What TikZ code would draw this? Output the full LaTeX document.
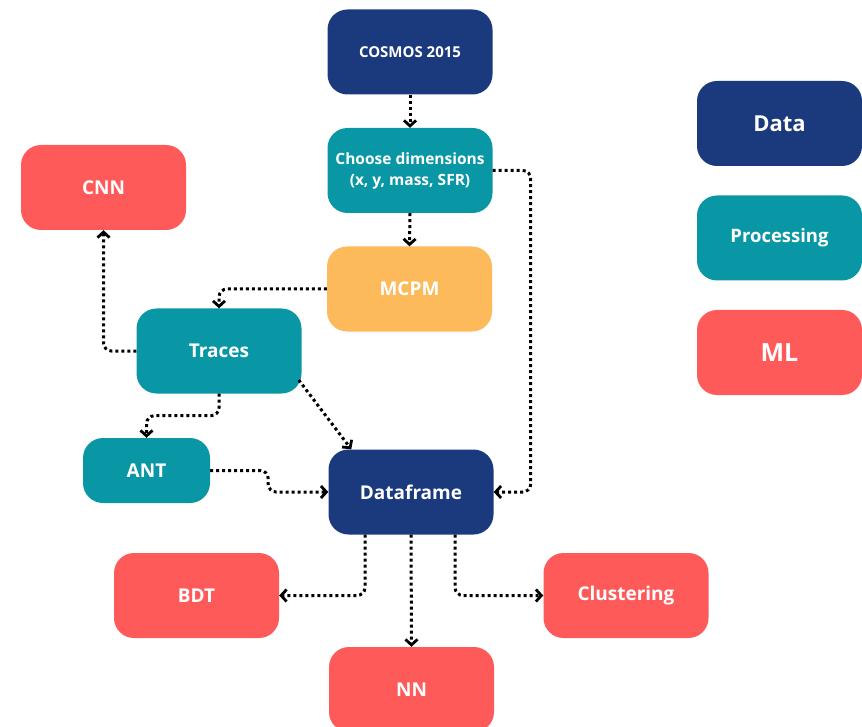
\documentclass[tikz,border=0pt]{standalone}
\usepackage{fontspec}
\setmainfont{Open Sans}
\usetikzlibrary{arrows.meta,calc}
\definecolor{navy}{HTML}{1B3A7E}
\definecolor{teal}{HTML}{0A97A5}
\definecolor{coral}{HTML}{FF5A5A}
\definecolor{amber}{HTML}{FDBA5A}
\begin{document}
\begin{tikzpicture}[x=1pt,y=-1pt,
  box/.style={rounded corners=20pt, minimum width=165pt, minimum height=85pt, text=white,
    font=\bfseries\fontsize{19}{23}\selectfont, align=center, inner sep=0pt, draw=none},
  conn/.style={line width=3pt, dash pattern=on 3pt off 3pt, rounded corners=8pt,
    -{Straight Barb[length=5.5pt,width=12pt,line width=2.8pt]}}]
\useasboundingbox (0,0) rectangle (862,727);
% data nodes
\node[box, fill=navy, font=\bfseries\fontsize{15}{18}\selectfont] (cosmos) at (410,52) {COSMOS 2015};
\node[box, fill=teal, font=\bfseries\fontsize{15.5}{21}\selectfont] (choose) at (410,170.5) {Choose dimensions\\(x, y, mass, SFR)};
\node[box, fill=amber] (mcpm) at (409.5,289) {MCPM};
\node[box, fill=coral] (cnn) at (103.5,187.5) {CNN};
\node[box, fill=teal] (traces) at (219,351) {Traces};
\node[box, fill=teal, minimum width=127pt, minimum height=65pt] (ant) at (146.5,470.5) {ANT};
\node[box, fill=navy] (df) at (411,492) {Dataframe};
\node[box, fill=coral] (bdt) at (196.5,595.5) {BDT};
\node[box, fill=coral] (nn) at (411.5,689.5) {NN};
\node[box, fill=coral] (clus) at (626,595.5) {Clustering};
% legend
\node[box, fill=navy, font=\bfseries\fontsize{22}{26}\selectfont] (ldata) at (779.5,123.5) {Data};
\node[box, fill=teal, font=\bfseries\fontsize{18.5}{22}\selectfont] (lproc) at (779.5,238) {Processing};
\node[box, fill=coral, font=\bfseries\fontsize{25}{29}\selectfont] (lml) at (779.5,352.5) {ML};
% connectors
\draw[conn] (cosmos.south) -- (choose.north);
\draw[conn] (choose.south) -- (mcpm.north);
\draw[conn] (choose.east) -- ++(38,0) |- (df.east);
\draw[conn] (mcpm.west) -| (traces.north);
\draw[conn] (traces.west) -| (cnn.south);
\draw[conn] (traces.south) -- ++(0,22) -| (ant.north);
\draw[conn] ([xshift=-3pt,yshift=-29pt]traces.east) -- ([xshift=23pt]df.north west);
\draw[conn] (ant.east) -- ++(58,0) |- (df.west);
\draw[conn] ([xshift=-46pt]df.south) |- (bdt.east);
\draw[conn] (df.south) -- (nn.north);
\draw[conn] ([xshift=44pt]df.south) |- (clus.west);
\end{tikzpicture}
\end{document}
